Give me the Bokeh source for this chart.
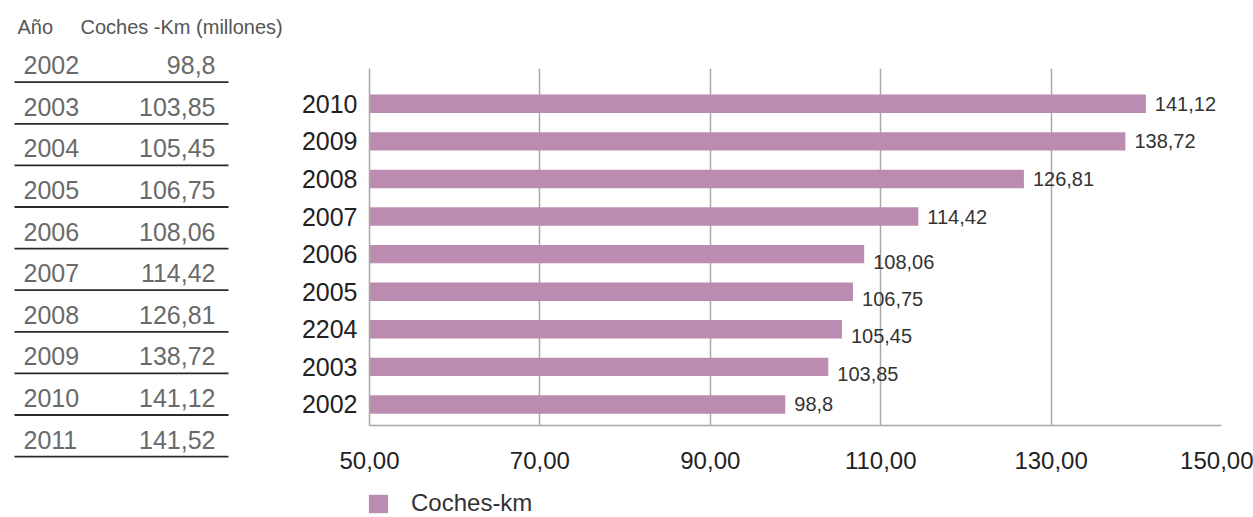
from bokeh.plotting import figure
from bokeh.layouts import row, column
from bokeh.models import Range1d, FixedTicker, Legend, LegendItem, ColumnDataSource
from bokeh.core.properties import value
from bokeh.embed import file_html
from bokeh.resources import INLINE

# ---------------- data ----------------
table_years = ["2002", "2003", "2004", "2005", "2006", "2007", "2008", "2009", "2010", "2011"]
table_values = [98.8, 103.85, 105.45, 106.75, 108.06, 114.42, 126.81, 138.72, 141.12, 141.52]
header_year = "Año"
header_value = "Coches -Km (millones)"

chart_labels = ["2002", "2003", "2204", "2005", "2006", "2007", "2008", "2009", "2010"]
chart_values = [98.8, 103.85, 105.45, 106.75, 108.06, 114.42, 126.81, 138.72, 141.12]
series_name = "Coches-km"
x_ticks = [50, 70, 90, 110, 130, 150]

# ---------------- style / layout ----------------
FONT = value("Liberation Sans")
BAR_COLOR = "#bb8cb0"
GRID_COLOR = "#a8a8a8"
label_dy = [0, 7, 7, 7, 8, 0, 0, 0, 0]  # screen offsets of value labels


def fmt(v, nd=None):
    s = f"{v:.{nd}f}" if nd is not None else f"{v:g}"
    return s.replace(".", ",")


# ---------------- left: table ----------------
left = figure(width=298, height=517, output_backend="svg", toolbar_location=None,
              x_range=Range1d(0, 298), y_range=Range1d(10.464, -1.964),
              x_axis_type=None, y_axis_type=None, min_border=0,
              outline_line_color=None)
left.grid.visible = False

n = len(table_years)
rows_idx = list(range(n))
tsrc = ColumnDataSource(dict(
    y=[i - 0.41 for i in rows_idx],
    year=table_years,
    val=[fmt(v) for v in table_values],
    line_y=rows_idx,
))
left.text(x=23, y="y", text="year", source=tsrc, text_font=FONT, text_font_size="25px",
          text_color="#6a6a6a", text_baseline="middle", text_align="left")
left.text(x=215, y="y", text="val", source=tsrc, text_font=FONT, text_font_size="25px",
          text_color="#6a6a6a", text_baseline="middle", text_align="right")
left.segment(x0=14, x1=228, y0="line_y", y1="line_y", source=tsrc,
             line_color="#2a2a2a", line_width=1.8)
left.text(x=[17, 80], y=[-1.315, -1.315], text=[header_year, header_value],
          text_font=FONT, text_font_size="20px", text_color="#555555",
          text_baseline="middle", text_align="left")

# ---------------- right: bar chart ----------------
idx = list(range(len(chart_labels)))
p = figure(width=955, height=483, output_backend="svg", toolbar_location=None,
           x_range=Range1d(50, 150), y_range=Range1d(-0.56, 8.94),
           min_border_left=70, min_border_right=32, min_border_top=68,
           min_border_bottom=58, outline_line_color=None)

src = ColumnDataSource(dict(
    y=idx, val=chart_values,
    lab=[fmt(v) for v in chart_values],
    dy=label_dy,
))
bars = p.hbar(y="y", left=50, right="val", height=0.49, source=src,
              fill_color=BAR_COLOR, line_color=None)
p.text(x="val", y="y", text="lab", source=src, x_offset=9, y_offset="dy",
       text_font=FONT, text_font_size="20px", text_color="#333333",
       text_baseline="middle", text_align="left")

# axes
p.xaxis.ticker = FixedTicker(ticks=x_ticks)
p.xaxis.major_label_overrides = {t: fmt(t, 2) for t in x_ticks}
p.yaxis.ticker = FixedTicker(ticks=idx)
p.yaxis.major_label_overrides = {i: lab for i, lab in zip(idx, chart_labels)}
for ax in (p.xaxis, p.yaxis):
    ax.major_tick_out = 0
    ax.major_tick_in = 0
    ax.minor_tick_out = 0
    ax.minor_tick_in = 0
    ax.axis_line_color = GRID_COLOR
    ax.axis_line_width = 1.5
    ax.major_label_text_font = "Liberation Sans"
    ax.major_label_text_color = "#222222"
p.xaxis.major_label_text_font_size = "24px"
p.yaxis.major_label_text_font_size = "25px"
p.xaxis.major_label_standoff = 26
p.yaxis.major_label_standoff = 12

p.xgrid.ticker = FixedTicker(ticks=x_ticks[1:])
p.xgrid.grid_line_color = GRID_COLOR
p.xgrid.grid_line_width = 1.5
p.ygrid.visible = False

# ---------------- legend strip ----------------
# the key renderer reuses the bar data but lies outside this strip's ranges
lf = figure(width=955, height=34, output_backend="svg", toolbar_location=None,
            x_range=Range1d(0, 1), y_range=Range1d(-50, -49),
            x_axis_type=None, y_axis_type=None, min_border=0,
            outline_line_color=None)
lf.grid.visible = False
key = lf.hbar(y="y", left=50, right="val", height=0.49, source=src,
              fill_color=BAR_COLOR, line_color=None)
legend = Legend(items=[LegendItem(label=series_name, renderers=[key])],
                location=(68, 0), orientation="horizontal",
                glyph_width=24, glyph_height=23, label_height=17,
                label_standoff=21, padding=0, margin=0, spacing=0,
                border_line_color=None, background_fill_alpha=0,
                label_text_font="Liberation Sans", label_text_font_size="24px",
                label_text_color="#333333", label_text_baseline="middle")
lf.add_layout(legend)

for fig in (left, p, lf):
    try:
        fig.frame_align = False
    except Exception:
        pass

layout = row(left, column(p, lf))
open("out.html", "w").write(file_html(layout, INLINE))
